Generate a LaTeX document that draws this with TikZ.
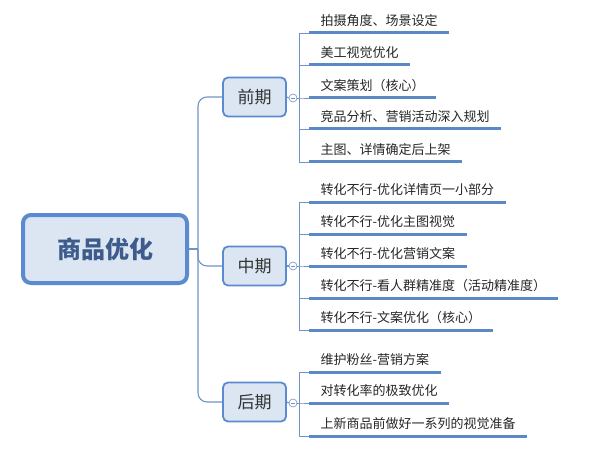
\documentclass[tikz,border=0pt]{standalone}
\usepackage{fontspec}
\setmainfont{Noto Sans CJK SC}
\definecolor{mapline}{HTML}{6F93C8}
\definecolor{mapbar}{HTML}{5B89C6}
\definecolor{mapfill}{HTML}{DCE6F3}
\definecolor{mapedge}{HTML}{5A8BD0}
\definecolor{maptext}{HTML}{3D5C8C}
\begin{document}
\begin{tikzpicture}[x=1pt,y=-1pt]
        \tikzstyle{root}=[draw=mapedge,line width=4pt,fill=mapfill,rounded corners=8pt,minimum width=164pt,minimum height=68pt,font=\fontsize{24}{24}\selectfont\bfseries,text=maptext]
        \tikzstyle{phase}=[draw=mapedge,line width=1.8pt,fill=mapfill,rounded corners=5pt,minimum width=63pt,minimum height=39pt,font=\fontsize{17}{17}\selectfont,text=black!80]
        \tikzstyle{fold}=[circle,draw=mapline,fill=white,line width=0.6pt,inner sep=0pt,minimum size=8pt,path picture={\draw[mapline,line width=0.6pt] ([xshift=-2pt]path picture bounding box.center) -- ([xshift=2pt]path picture bounding box.center);}]
        \tikzstyle{item}=[anchor=south west,inner xsep=11.5pt,inner ysep=5pt,text height=10pt,text depth=2pt,font=\fontsize{13}{13}\selectfont,text=black!85]
        \tikzstyle{edge}=[draw=mapline,line width=1.1pt]
        \tikzstyle{bar}=[draw=mapbar,line width=3pt]
        \useasboundingbox (0,0) rectangle (593,470);
       \begin{scope}
         \node [root] (goods) at (105,249) {商品优化};
         \coordinate (hub) at (198,249);
         \node [phase] (early) at (254.5,97) {前期};
         \node [phase] (mid) at (254.5,266) {中期};
         \node [phase] (late) at (254.5,402) {后期};

         \node [fold] (fe) at (293,98) {};
         \node [fold] (fm) at (293,266) {};
         \node [fold] (fl) at (293,403) {};

         \path[edge] (goods.east) -- (hub);
         \path[edge,rounded corners=9pt] (hub) |- (early.west);
         \path[edge,rounded corners=9pt] (hub) |- (mid.west);
         \path[edge,rounded corners=9pt] (hub) |- (late.west);
         \path[edge] (early.east) -- (fe.west);
         \path[edge] (mid.east) -- (fm.west);
         \path[edge] (late.east) -- (fl.west);

         % early stage
         \node [item] (e1) at (309,33) {拍摄角度、场景设定};
         \node [item] (e2) at (309,65) {美工视觉优化};
         \node [item] (e3) at (309,98) {文案策划（核心）};
         \node [item] (e4) at (309,129) {竞品分析、营销活动深入规划};
         \node [item] (e5) at (309,162) {主图、详情确定后上架};

         % middle stage
         \node [item] (m1) at (309,202) {转化不行-优化详情页一小部分};
         \node [item] (m2) at (309,234) {转化不行-优化主图视觉};
         \node [item] (m3) at (309,266) {转化不行-优化营销文案};
         \node [item] (m4) at (309,298) {转化不行-看人群精准度（活动精准度）};
         \node [item] (m5) at (309,330) {转化不行-文案优化（核心）};

         % late stage
         \node [item] (l1) at (309,372) {维护粉丝-营销方案};
         \node [item] (l2) at (309,403) {对转化率的极致优化};
         \node [item] (l3) at (309,436) {上新商品前做好一系列的视觉准备};

         \foreach \t in {e1,e2,e3,e4,e5} {
           \path[edge,line width=0.8pt] (fe.east) -- ++(2.5,0) |- (\t.south west);
           \path[bar] (\t.south west) -- (\t.south east);
         }
         \foreach \t in {m1,m2,m3,m4,m5} {
           \path[edge,line width=0.8pt] (fm.east) -- ++(2.5,0) |- (\t.south west);
           \path[bar] (\t.south west) -- (\t.south east);
         }
         \foreach \t in {l1,l2,l3} {
           \path[edge,line width=0.8pt] (fl.east) -- ++(2.5,0) |- (\t.south west);
           \path[bar] (\t.south west) -- (\t.south east);
         }
        \end{scope}
      \end{tikzpicture}
\end{document}
